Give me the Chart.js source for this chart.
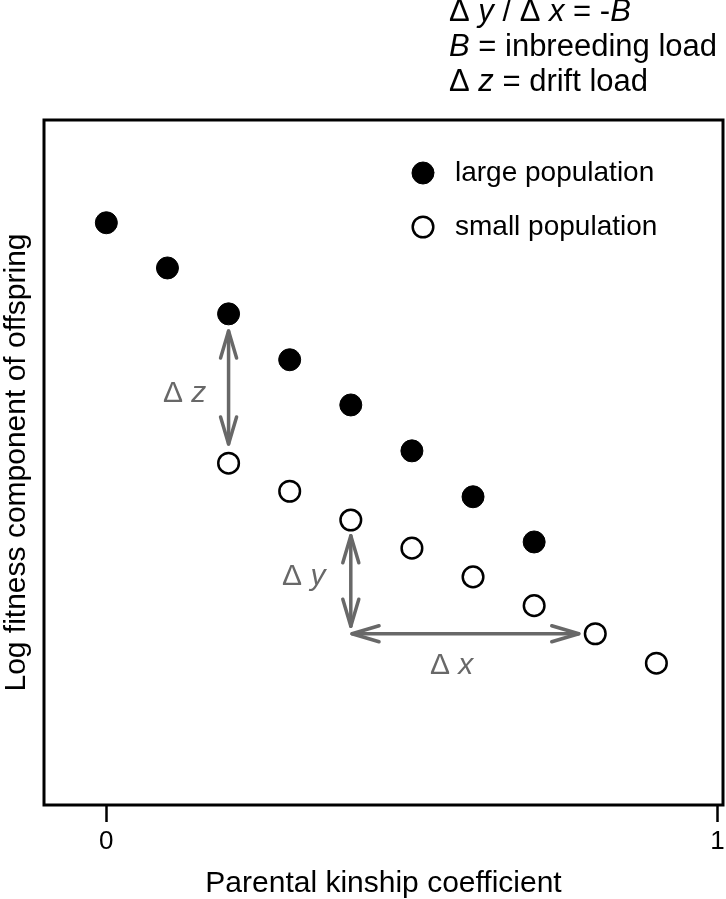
<!DOCTYPE html>
<html>
<head>
<meta charset="utf-8">
<script src="https://cdn.jsdelivr.net/npm/chart.js@4.4.0/dist/chart.umd.min.js"></script>
<style>
  html, body { margin: 0; padding: 0; background: #fff; }
  #wrap { position: relative; width: 726px; height: 899px; }
</style>
</head>
<body>
<div id="wrap"><canvas id="chart"></canvas></div>
<script>
// Parental kinship coefficient of each point
const largeKinship = [0, 0.1, 0.2, 0.3, 0.4, 0.5, 0.6, 0.7];
const smallKinship = [0.2, 0.3, 0.4, 0.5, 0.6, 0.7, 0.8, 0.9];
// Log fitness (no units on the axis: 0 = bottom of the box, 1 = top)
const largeFitness = [0.850, 0.784, 0.717, 0.650, 0.584, 0.517, 0.450, 0.384];
const smallFitness = [0.499, 0.458, 0.416, 0.375, 0.333, 0.291, 0.250, 0.207];
const seriesNames = ['large population', 'small population'];
const xTicks = [0, 1];

// Double arrows and their labels, in data units
const arrowStarts = [[0.2, 0.692], [0.4, 0.393], [0.402, 0.250]];
const arrowEnds = [[0.2, 0.527], [0.4, 0.261], [0.773, 0.250]];
const deltaSymbols = ['z', 'y', 'x'];
const deltaLabelAt = [[0.128, 0.601], [0.323, 0.333], [0.565, 0.204]];

// Notes above the plot, [text, italic]
const noteLines = [
    [['\u0394 ', false], ['y', true], [' / \u0394 ', false], ['x', true], [' = -', false], ['B', true]],
    [['B', true], [' = inbreeding load', false]],
    [['\u0394 ', false], ['z', true], [' = drift load', false]]
];

const FONT = '"Liberation Sans", Arial, sans-serif';
const GREY = '#686868';

function runsWidth(ctx, runs, size) {
    let w = 0;
    for (const [text, italic] of runs) {
        ctx.font = (italic ? 'italic ' : '') + size + 'px ' + FONT;
        w += ctx.measureText(text).width;
    }
    return w;
}

function drawRuns(ctx, runs, x, y, size) {
    for (const [text, italic] of runs) {
        ctx.font = (italic ? 'italic ' : '') + size + 'px ' + FONT;
        ctx.fillText(text, x, y);
        x += ctx.measureText(text).width;
    }
}

function arrowHead(ctx, tipX, tipY, fromX, fromY) {
    const ang = Math.atan2(fromY - tipY, fromX - tipX);
    const len = 27, half = 8;
    const bx = tipX + Math.cos(ang) * len;
    const by = tipY + Math.sin(ang) * len;
    const px = -Math.sin(ang) * half;
    const py = Math.cos(ang) * half;
    ctx.beginPath();
    ctx.moveTo(bx + px, by + py);
    ctx.lineTo(tipX, tipY);
    ctx.lineTo(bx - px, by - py);
    ctx.stroke();
}

// Box around the plot area
const framePlugin = {
    id: 'frame',
    beforeDatasetsDraw(chart) {
        const { ctx, chartArea: a } = chart;
        ctx.save();
        ctx.strokeStyle = '#000';
        ctx.lineWidth = 3;
        ctx.strokeRect(a.left, a.top, a.right - a.left, a.bottom - a.top);
        ctx.restore();
    }
};

// Arrows, delta labels, legend and the notes on top
const annotatePlugin = {
    id: 'annotate',
    afterDatasetsDraw(chart) {
        const { ctx, chartArea: a, scales: { x, y } } = chart;
        ctx.save();

        ctx.strokeStyle = GREY;
        ctx.lineWidth = 3.5;
        ctx.lineCap = 'round';
        ctx.lineJoin = 'round';
        arrowStarts.forEach((s, i) => {
            const e = arrowEnds[i];
            const x1 = x.getPixelForValue(s[0]), y1 = y.getPixelForValue(s[1]);
            const x2 = x.getPixelForValue(e[0]), y2 = y.getPixelForValue(e[1]);
            ctx.beginPath();
            ctx.moveTo(x1, y1);
            ctx.lineTo(x2, y2);
            ctx.stroke();
            arrowHead(ctx, x1, y1, x2, y2);
            arrowHead(ctx, x2, y2, x1, y1);
        });

        ctx.fillStyle = GREY;
        ctx.textBaseline = 'middle';
        ctx.textAlign = 'left';
        deltaSymbols.forEach((sym, i) => {
            const runs = [['\u0394 ', false], [sym, true]];
            const w = runsWidth(ctx, runs, 30);
            const cx = x.getPixelForValue(deltaLabelAt[i][0]);
            const cy = y.getPixelForValue(deltaLabelAt[i][1]);
            drawRuns(ctx, runs, cx - w / 2, cy, 30);
        });

        // legend inside the box
        ctx.textBaseline = 'alphabetic';
        ctx.fillStyle = '#000';
        chart.data.datasets.forEach((ds, i) => {
            const cx = a.left + 379;
            const cy = a.top + 53 + i * 54;
            ctx.beginPath();
            ctx.arc(cx, cy, ds.pointRadius, 0, Math.PI * 2);
            ctx.fillStyle = ds.backgroundColor;
            ctx.fill();
            ctx.lineWidth = ds.borderWidth;
            ctx.strokeStyle = ds.borderColor;
            ctx.stroke();
            ctx.fillStyle = '#000';
            ctx.font = '28px ' + FONT;
            ctx.fillText(ds.label, cx + 32, cy + 8);
        });

        // notes above the box
        noteLines.forEach((runs, i) => {
            drawRuns(ctx, runs, 449, 21 + i * 35, 31);
        });
        ctx.restore();
    }
};

const ctx = document.getElementById('chart').getContext('2d');
const chart = new Chart(ctx, {
    type: 'scatter',
    data: {
        datasets: [
            {
                label: seriesNames[0],
                data: largeKinship.map((k, i) => ({ x: k, y: largeFitness[i] })),
                backgroundColor: '#000',
                borderColor: '#000',
                borderWidth: 1,
                pointRadius: 11,
                pointHoverRadius: 11
            },
            {
                label: seriesNames[1],
                data: smallKinship.map((k, i) => ({ x: k, y: smallFitness[i] })),
                backgroundColor: '#fff',
                borderColor: '#000',
                borderWidth: 2.5,
                pointRadius: 10.3,
                pointHoverRadius: 10.3
            }
        ]
    },
    options: {
        responsive: true,
        maintainAspectRatio: false,
        animation: false,
        layout: {
            autoPadding: false,
            padding: { top: 120, right: 3, left: 0, bottom: 0 }
        },
        plugins: {
            legend: { display: false },
            tooltip: { enabled: false }
        },
        scales: {
            x: {
                type: 'linear',
                position: 'bottom',
                min: -0.102,
                max: 1.009,
                afterBuildTicks: scale => {
                    scale.ticks = xTicks.map(v => ({ value: v }));
                },
                afterFit: scale => {
                    // fixed axis band, and no extra room for the "1" label
                    scale.height = 94;
                    scale.paddingLeft = 0;
                    scale.paddingRight = 0;
                },
                border: { display: false },
                grid: {
                    drawOnChartArea: false,
                    drawTicks: true,
                    tickLength: 17,
                    tickWidth: 2.5,
                    tickColor: '#000'
                },
                ticks: {
                    color: '#000',
                    font: { family: FONT, size: 26 },
                    padding: 4,
                    maxRotation: 0,
                    autoSkip: false
                },
                title: {
                    display: true,
                    text: 'Parental kinship coefficient',
                    color: '#000',
                    font: { family: FONT, size: 30, lineHeight: 1 },
                    padding: { top: 0, bottom: 0 }
                }
            },
            y: {
                type: 'linear',
                min: 0,
                max: 1,
                afterFit: scale => {
                    scale.width = 44;
                    scale.paddingTop = 0;
                    scale.paddingBottom = 0;
                },
                border: { display: false },
                grid: { display: false },
                ticks: { display: false },
                title: {
                    display: true,
                    text: 'Log fitness component of offspring',
                    color: '#000',
                    font: { family: FONT, size: 30, lineHeight: 1 },
                    padding: { top: 2, bottom: 0 }
                }
            }
        }
    },
    plugins: [framePlugin, annotatePlugin]
});
</script>
</body>
</html>
